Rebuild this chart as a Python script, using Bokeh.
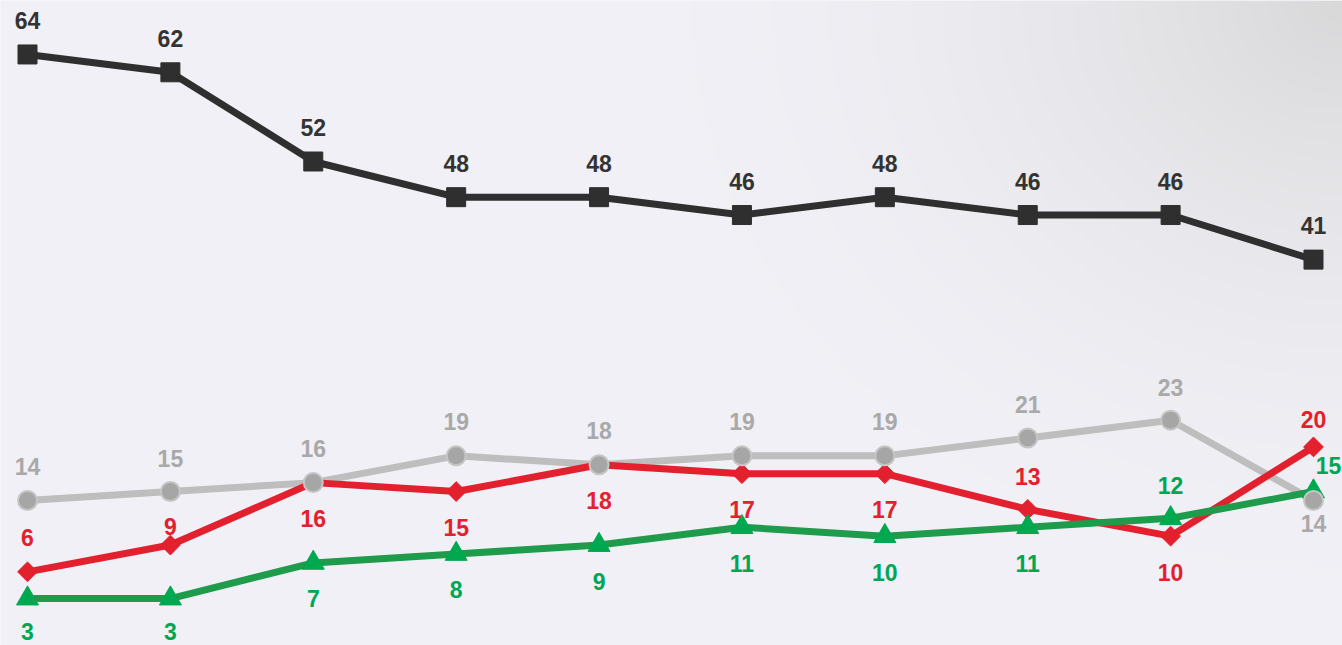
import numpy as np
from bokeh.plotting import figure
from bokeh.models import Range1d, ColumnDataSource
from bokeh.core.properties import value
from bokeh.embed import file_html
from bokeh.resources import INLINE

# ---------------- data ----------------
periods = list(range(10))
black_vals = [64, 62, 52, 48, 48, 46, 48, 46, 46, 41]
gray_vals = [14, 15, 16, 19, 18, 19, 19, 21, 23, 14]
red_vals = [6, 9, 16, 15, 18, 17, 17, 13, 10, 20]
green_vals = [3, 3, 7, 8, 9, 11, 10, 11, 12, 15]

# label placement (styling): pixel offsets of each value label
black_lab_dy = [-34] * 10
gray_lab_dy = [-34, -33, -34, -34, -34, -34, -34, -34, -33, 23]
red_lab_dy = [-34, -19, 36, 36, 36, 36, 36, -33, 36, -27]
green_lab_dy = [33, 33, 36, 36, 36, 36, 36, 36, -33, -26]
green_lab_dx = [0, 0, 0, 0, 0, 0, 0, 0, 0, 15]

W, H = 1342, 645
X0, X1 = -0.189, 9.203
Y0, Y1 = -2.26, 70.05
BASE = (241, 240, 246)
CORNER = (216, 216, 217)

p = figure(width=W, height=H, output_backend="svg", toolbar_location=None,
           x_range=Range1d(X0, X1), y_range=Range1d(Y0, Y1),
           x_axis_location=None, y_axis_location=None, min_border=0,
           background_fill_color="#F1F0F6", border_fill_color="#F1F0F6",
           outline_line_color=None)
p.xgrid.visible = False
p.ygrid.visible = False

# background vignette toward the upper right corner
gw, gh = 336, 162
xs = np.linspace(0, W, gw)
ys = np.linspace(0, H, gh)
X, Y = np.meshgrid(xs, ys)
d = np.sqrt((X - W) ** 2 + (Y * 1.15) ** 2)
t = np.clip(1 - d / 760.0, 0, 1) ** 2.0
img = np.empty((gh, gw), dtype=np.uint32)
view = img.view(dtype=np.uint8).reshape((gh, gw, 4))
for c in range(3):
    view[:, :, c] = np.round(BASE[c] + (CORNER[c] - BASE[c]) * t).astype(np.uint8)
view[:, :, 3] = 255
img = img[::-1]
p.image_rgba(image=[img], x=X0, y=Y0, dw=X1 - X0, dh=Y1 - Y0)

FONT = value("Liberation Sans")

def labels(vals, dy, color, dx=None):
    src = ColumnDataSource(dict(x=periods, y=vals, t=[str(v) for v in vals],
                                dy=dy, dx=dx if dx else [0] * len(vals)))
    p.text(x="x", y="y", text="t", x_offset="dx", y_offset="dy", source=src,
           text_color=color, text_font=FONT, text_font_style="bold",
           text_font_size="23px", text_align="center", text_baseline="middle")

# black series
p.line(periods, black_vals, line_color="#2F2F2F", line_width=7)
p.scatter(periods, black_vals, marker="square", size=19,
          fill_color="#2F2F2F", line_color="#2F2F2F")

# lines of lower series
p.line(periods, gray_vals, line_color="#BEBEBE", line_width=7)
p.line(periods, red_vals, line_color="#E3202D", line_width=7)
p.line(periods, green_vals, line_color="#1E9B4B", line_width=7)

# markers
p.scatter(periods, red_vals, marker="square", angle=np.pi / 4, size=14,
          fill_color="#E3202D", line_color="#E3202D")
p.scatter(periods, green_vals, marker="triangle", size=22,
          fill_color="#00A84F", line_color="#00A84F")
p.scatter(periods, gray_vals, marker="circle", size=19,
          fill_color="#A6A6A6", line_color="#C6C6C6", line_width=2)

labels(black_vals, black_lab_dy, "#333333")
labels(gray_vals, gray_lab_dy, "#A9A9A9")
labels(red_vals, red_lab_dy, "#E3202D")
labels(green_vals, green_lab_dy, "#00A651", green_lab_dx)

open("out.html", "w").write(file_html(p, INLINE))
